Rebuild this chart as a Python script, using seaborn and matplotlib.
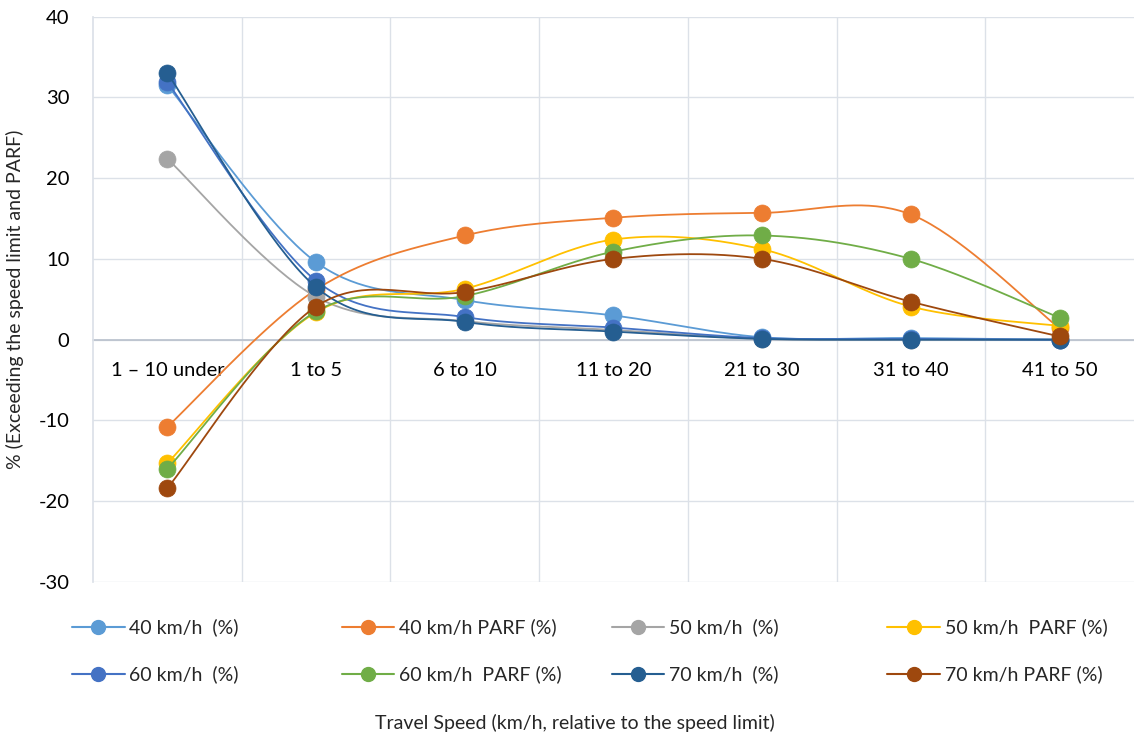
import numpy as np
import pandas as pd
import matplotlib
matplotlib.use("Agg")
import matplotlib.pyplot as plt
from matplotlib.lines import Line2D
import seaborn as sns

categories = ["1 – 10 under", "1 to 5", "6 to 10", "11 to 20", "21 to 30", "31 to 40", "41 to 50"]
series_names = ["40 km/h  (%)", "40 km/h PARF (%)", "50 km/h  (%)", "50 km/h  PARF (%)",
                "60 km/h  (%)", "60 km/h  PARF (%)", "70 km/h  (%)", "70 km/h PARF (%)"]
v40 = [31.5, 9.6, 4.9, 3.0, 0.3, 0.2, 0.0]
v40_parf = [-10.8, 6.2, 12.9, 15.1, 15.7, 15.5, 1.4]
v50 = [22.4, 5.3, 2.3, 1.2, 0.1, 0.0, 0.0]
v50_parf = [-15.3, 3.4, 6.3, 12.4, 11.2, 4.1, 1.7]
v60 = [31.9, 7.3, 2.8, 1.5, 0.2, 0.1, 0.0]
v60_parf = [-16.0, 3.5, 5.4, 10.9, 12.9, 10.0, 2.7]
v70 = [33.0, 6.5, 2.2, 1.0, 0.1, 0.0, 0.0]
v70_parf = [-18.4, 4.1, 5.9, 10.0, 10.0, 4.7, 0.4]
colors = ["#5B9BD5", "#ED7D31", "#A5A5A5", "#FFC000", "#4472C4", "#70AD47", "#255E91", "#9E480E"]
all_values = [v40, v40_parf, v50, v50_parf, v60, v60_parf, v70, v70_parf]

def smooth(x, y, n=40):
    x = np.asarray(x, float); y = np.asarray(y, float)
    xs, ys = [], []
    m = len(x)
    for i in range(m - 1):
        x0, y0 = (x[i-1], y[i-1]) if i > 0 else (x[i], y[i])
        x3, y3 = (x[i+2], y[i+2]) if i + 2 < m else (x[i+1], y[i+1])
        p0 = np.array([x[i], y[i]]); p3 = np.array([x[i+1], y[i+1]])
        c1 = p0 + (p3 - np.array([x0, y0])) / 6.0
        c2 = p3 - (np.array([x3, y3]) - p0) / 6.0
        t = np.linspace(0, 1, n)[:, None]
        pts = (1-t)**3*p0 + 3*(1-t)**2*t*c1 + 3*(1-t)*t**2*c2 + t**3*p3
        xs.extend(pts[:, 0]); ys.extend(pts[:, 1])
    return np.array(xs), np.array(ys)

sns.set_theme(style="white")
plt.rcParams['font.family'] = ['Lato', 'DejaVu Sans']
plt.rcParams['axes.unicode_minus'] = False

fig = plt.figure(figsize=(11.34, 7.39), dpi=100)
ax = fig.add_axes([0.082, 0.2125, 0.918, 0.765])

xpos = np.arange(len(categories))
for k, (name, vals, col) in enumerate(zip(series_names, all_values, colors)):
    sx, sy = smooth(xpos, vals)
    sns.lineplot(x=sx, y=sy, ax=ax, color=col, linewidth=1.3, sort=False,
                 estimator=None, zorder=3 + 2*k)
    sns.scatterplot(x=xpos, y=vals, ax=ax, color=col, s=150, edgecolor=col,
                    linewidth=0.5, zorder=4 + 2*k)

ax.set_xlim(-0.5, len(categories) - 0.5)
ax.set_ylim(-30, 40)
ax.set_yticks(np.arange(-30, 41, 10))
ax.set_xticks(xpos)
ax.set_xticklabels(categories)
ax.set_xticks(np.arange(0.5, len(categories) - 0.5, 1), minor=True)
ax.grid(False)
ax.yaxis.grid(True, color="#DCE1E8", linewidth=1.0, zorder=0)
ax.xaxis.grid(True, which="minor", color="#DCE1E8", linewidth=1.0, zorder=0)
ax.set_axisbelow(True)
for s in ["top", "right"]:
    ax.spines[s].set_visible(False)
ax.spines["left"].set_color("#DCE1E8")
ax.spines["bottom"].set_position(("data", 0))
ax.spines["bottom"].set_color("#B8C0CC")
ax.spines["bottom"].set_linewidth(1.2)
ax.spines["bottom"].set_zorder(2)
ax.tick_params(axis="x", which="both", length=0, pad=16, labelsize=14.5, colors="black")
ax.tick_params(axis="y", length=0, pad=17, labelsize=14.5, colors="black")
ax.set_ylabel("% (Exceeding the speed limit and PARF)", fontsize=14)
ax.yaxis.set_label_coords(-0.066, 0.5)
fig.text(0.507, 0.022, "Travel Speed (km/h, relative to the speed limit)", ha="center",
         va="center", fontsize=14)

col_x = [0.055, 0.293, 0.531, 0.774]
for c in range(4):
    handles = []
    for r in range(2):
        i = r * 4 + c
        handles.append(Line2D([], [], color=colors[i], linewidth=1.5, marker="o",
                              markersize=10, label=series_names[i]))
    fig.legend(handles=handles, loc="upper left", bbox_to_anchor=(col_x[c], 0.176),
               frameon=False, fontsize=14, handlelength=2.7, handletextpad=0.25,
               labelspacing=1.5, borderpad=0.0)

fig.savefig("out.png", dpi=100)
